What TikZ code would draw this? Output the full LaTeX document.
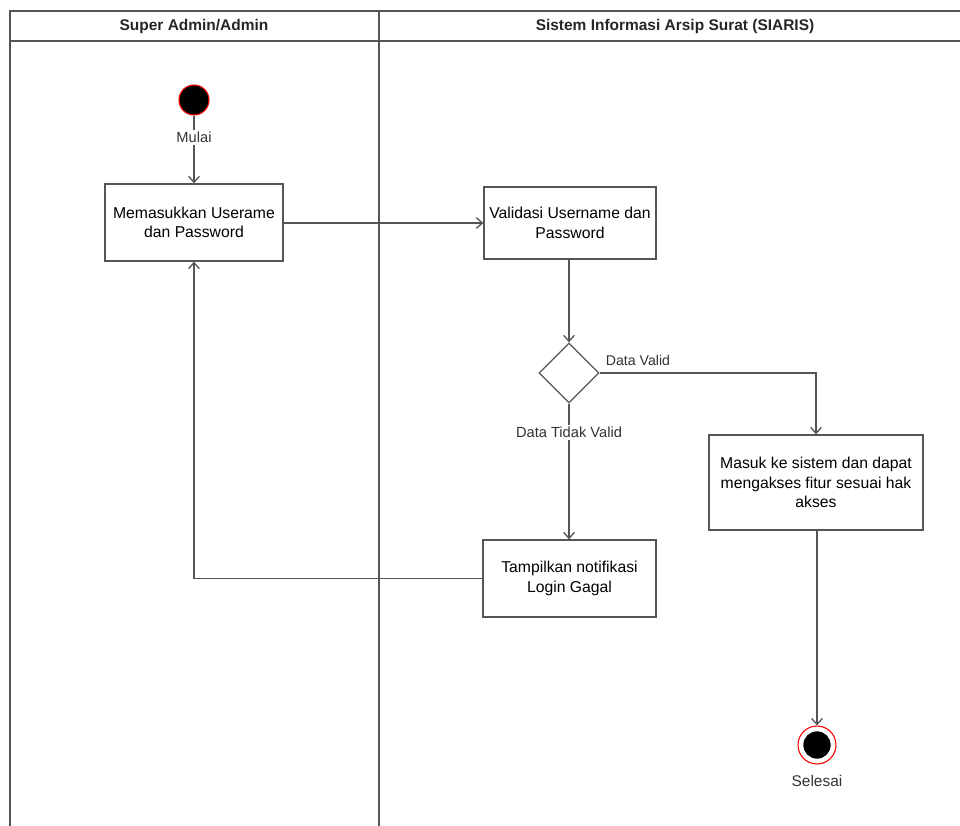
\documentclass[tikz,border=0pt]{standalone}
\usepackage{fontspec}
\setmainfont{Liberation Sans}
\usetikzlibrary{arrows.meta,shapes.geometric}
\definecolor{edge}{HTML}{555555}
\definecolor{startred}{HTML}{FF0000}
\tikzset{
  lane/.style={draw=edge, line width=1pt},
  actbox/.style={draw=edge, line width=1pt, rectangle, align=center, font=\fontsize{11.8}{14.8}\selectfont, inner sep=2pt},
  decision/.style={draw=edge, line width=1pt, diamond, aspect=1, minimum width=45pt, minimum height=45pt, inner sep=0pt},
  flow/.style={draw=edge, line width=1pt, -{Straight Barb[length=4.5pt,width=8pt]}},
  lbl/.style={font=\fontsize{11}{13}\selectfont, text=black!80, fill=white, inner sep=1.5pt},
  head/.style={font=\bfseries\fontsize{11.6}{14}\selectfont, text=black!85}
}
\begin{document}
\begin{tikzpicture}[x=0.75pt, y=-0.75pt]
\useasboundingbox (0,0) rectangle (960,825);
% swimlane frame
\draw[lane] (960,11) -- (10,11) -- (10,826);
\draw[lane] (10,41) -- (960,41);
\draw[lane] (379,11) -- (379,826);
\node[head] (h1) at (194,26) {Super Admin/Admin};
\node[head] (h2) at (675,26) {Sistem Informasi Arsip Surat (SIARIS)};

% start and end
\node[circle, fill=black, draw=startred, line width=0.8pt, minimum size=22.5pt, inner sep=0pt] (start) at (194,100) {};
\node[circle, draw=startred, line width=0.8pt, fill=white, minimum size=28.5pt, inner sep=0pt] (stop) at (817,745) {};
\node[circle, fill=black, minimum size=20.5pt, inner sep=0pt] (stopin) at (817,745) {};
\node[lbl, font=\fontsize{11.6}{13}\selectfont] (stoplbl) at (817,781) {Selesai};

% activities
\node[actbox, minimum width=133.5pt, minimum height=57.75pt] (input) at (194,222.5) {Memasukkan Userame\\dan Password};
\node[actbox, minimum width=129pt, minimum height=54pt] (valid) at (570,223) {Validasi Username dan\\Password};
\node[decision] (dec) at (569,373) {};
\node[actbox, minimum width=160.5pt, minimum height=71.25pt] (masuk) at (816,482.5) {Masuk ke sistem dan dapat\\mengakses fitur sesuai hak\\akses};
\node[actbox, minimum width=129.75pt, minimum height=57.75pt] (gagal) at (569.5,578.5) {Tampilkan notifikasi\\Login Gagal};

% flows
\draw[flow] (start) -- node[lbl, pos=0.32] {Mulai} (input);
\draw[flow] (input.east |- valid.west) -- (valid.west);
\draw[flow] (valid.south -| dec.north) -- (dec.north);
\draw[flow] (dec.east) -- (masuk.north |- dec.east) -- (masuk.north);
\node[lbl, fill=none, font=\fontsize{10.6}{13}\selectfont] (lvalid) at (638,360) {Data Valid};
\draw[flow] (dec.south) -- node[lbl, pos=0.21] {Data Tidak Valid} (dec.south |- gagal.north);
\draw[flow] (gagal.west) -- (input.south |- gagal.west) -- (input.south);
\draw[flow] (masuk.south -| stop.north) -- (stop.north);
\end{tikzpicture}
\end{document}
